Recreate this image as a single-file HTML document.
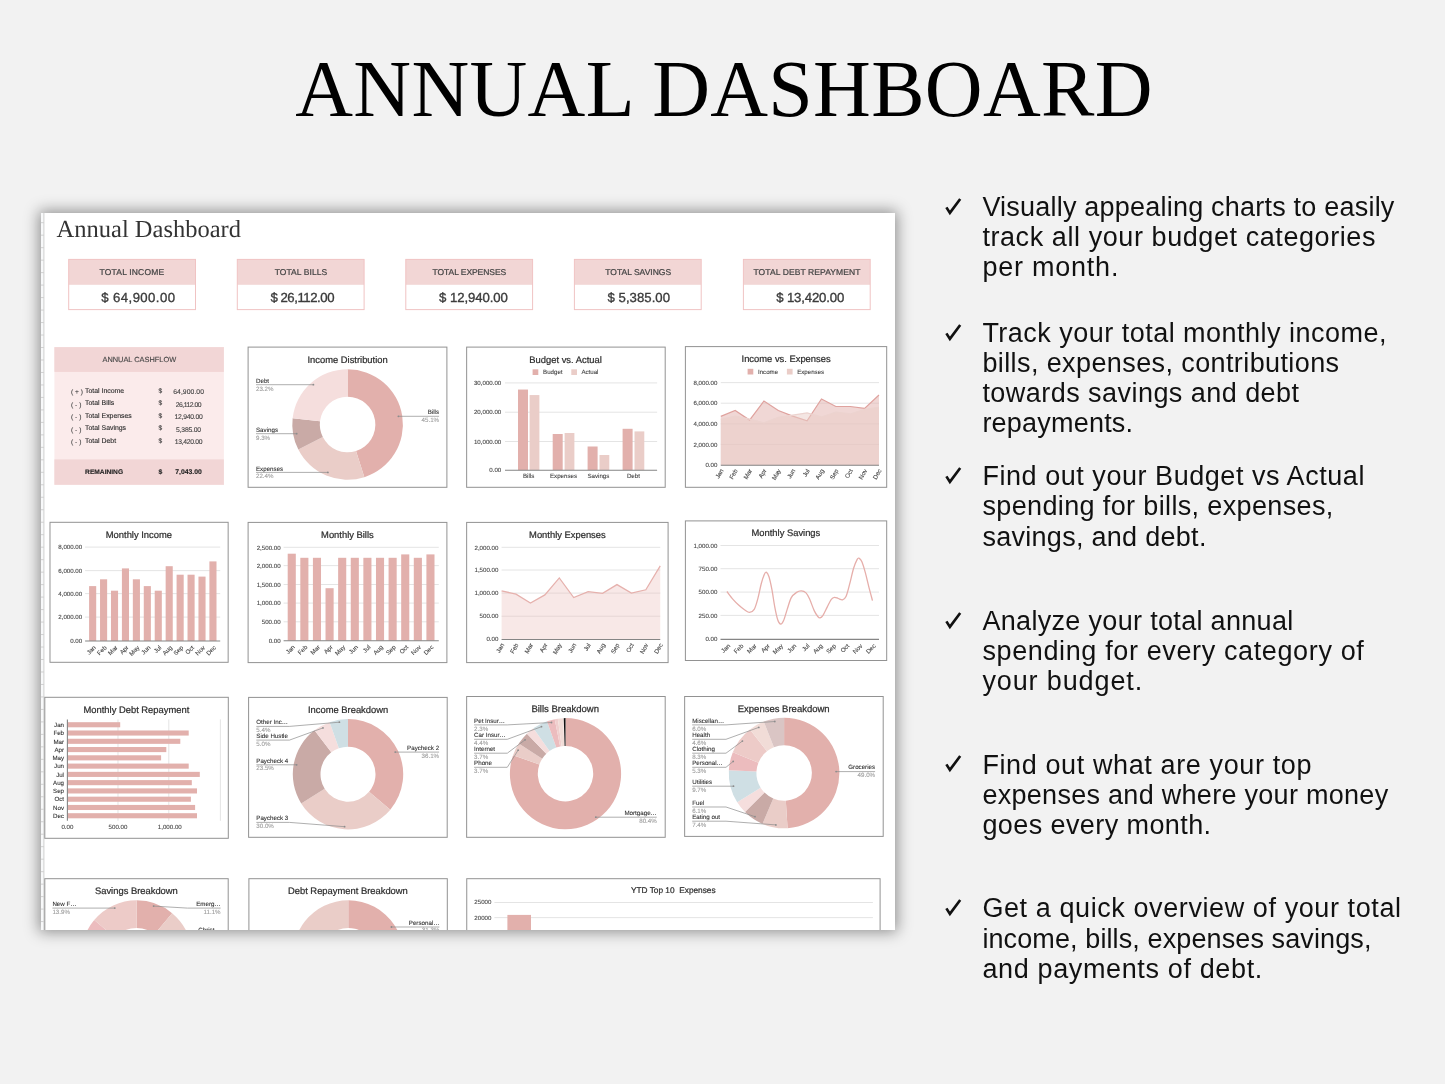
<!DOCTYPE html>
<html lang="en"><head><meta charset="utf-8"><title>Annual Dashboard</title>
<style>
html,body{margin:0;padding:0}
body{width:1445px;height:1084px;background:#f2f2f2;position:relative;overflow:hidden;font-family:'Liberation Sans', Arial, sans-serif}
h1{position:absolute;left:0;top:0;margin:0;width:1445px;text-align:center;font-family:'Liberation Serif', 'Times New Roman', serif;font-weight:400;font-size:80px;line-height:80px;color:#000;white-space:nowrap}
h1 span{position:absolute;left:295.3px;top:49px;letter-spacing:.3px}
#card{position:absolute;left:40.6px;top:213px;width:854.6px;height:717px;background:#fff;overflow:hidden}
#shadow{position:absolute;left:40.6px;top:213px;width:854.6px;height:717px;box-shadow:0 0 14px 2px rgba(0,0,0,.42)}
#card svg{display:block;font-family:'Liberation Sans', Arial, sans-serif}
.ln{position:absolute;left:982.4px;font-size:27.0px;line-height:30px;height:30px;color:#111;white-space:nowrap}
.ck{position:absolute}
</style></head><body>
<h1><span>ANNUAL DASHBOARD</span></h1>
<div id="shadow"></div>
<div id="card"><svg width="854.6" height="717" viewBox="40.6 213 854.6 717" text-rendering="geometricPrecision">
<rect x="40" y="213" width="3.5" height="717" fill="#f8f9fa"/>
<line x1="43.5" x2="43.5" y1="213" y2="930" stroke="#cfcfcf" stroke-width="1"/>
<line x1="40" x2="43.5" y1="222.7" y2="222.7" stroke="#cdcdcd" stroke-width="0.9"/>
<line x1="40" x2="43.5" y1="235.18" y2="235.18" stroke="#cdcdcd" stroke-width="0.9"/>
<line x1="40" x2="43.5" y1="247.66" y2="247.66" stroke="#cdcdcd" stroke-width="0.9"/>
<line x1="40" x2="43.5" y1="260.14" y2="260.14" stroke="#cdcdcd" stroke-width="0.9"/>
<line x1="40" x2="43.5" y1="272.62" y2="272.62" stroke="#cdcdcd" stroke-width="0.9"/>
<line x1="40" x2="43.5" y1="285.1" y2="285.1" stroke="#cdcdcd" stroke-width="0.9"/>
<line x1="40" x2="43.5" y1="297.58" y2="297.58" stroke="#cdcdcd" stroke-width="0.9"/>
<line x1="40" x2="43.5" y1="310.06" y2="310.06" stroke="#cdcdcd" stroke-width="0.9"/>
<line x1="40" x2="43.5" y1="322.54" y2="322.54" stroke="#cdcdcd" stroke-width="0.9"/>
<line x1="40" x2="43.5" y1="335.02" y2="335.02" stroke="#cdcdcd" stroke-width="0.9"/>
<line x1="40" x2="43.5" y1="347.5" y2="347.5" stroke="#cdcdcd" stroke-width="0.9"/>
<line x1="40" x2="43.5" y1="359.98" y2="359.98" stroke="#cdcdcd" stroke-width="0.9"/>
<line x1="40" x2="43.5" y1="372.46" y2="372.46" stroke="#cdcdcd" stroke-width="0.9"/>
<line x1="40" x2="43.5" y1="384.94" y2="384.94" stroke="#cdcdcd" stroke-width="0.9"/>
<line x1="40" x2="43.5" y1="397.42" y2="397.42" stroke="#cdcdcd" stroke-width="0.9"/>
<line x1="40" x2="43.5" y1="409.9" y2="409.9" stroke="#cdcdcd" stroke-width="0.9"/>
<line x1="40" x2="43.5" y1="422.38" y2="422.38" stroke="#cdcdcd" stroke-width="0.9"/>
<line x1="40" x2="43.5" y1="434.86" y2="434.86" stroke="#cdcdcd" stroke-width="0.9"/>
<line x1="40" x2="43.5" y1="447.34" y2="447.34" stroke="#cdcdcd" stroke-width="0.9"/>
<line x1="40" x2="43.5" y1="459.82" y2="459.82" stroke="#cdcdcd" stroke-width="0.9"/>
<line x1="40" x2="43.5" y1="472.3" y2="472.3" stroke="#cdcdcd" stroke-width="0.9"/>
<line x1="40" x2="43.5" y1="484.78" y2="484.78" stroke="#cdcdcd" stroke-width="0.9"/>
<line x1="40" x2="43.5" y1="497.26" y2="497.26" stroke="#cdcdcd" stroke-width="0.9"/>
<line x1="40" x2="43.5" y1="509.74" y2="509.74" stroke="#cdcdcd" stroke-width="0.9"/>
<line x1="40" x2="43.5" y1="522.22" y2="522.22" stroke="#cdcdcd" stroke-width="0.9"/>
<line x1="40" x2="43.5" y1="534.7" y2="534.7" stroke="#cdcdcd" stroke-width="0.9"/>
<line x1="40" x2="43.5" y1="547.18" y2="547.18" stroke="#cdcdcd" stroke-width="0.9"/>
<line x1="40" x2="43.5" y1="559.66" y2="559.66" stroke="#cdcdcd" stroke-width="0.9"/>
<line x1="40" x2="43.5" y1="572.14" y2="572.14" stroke="#cdcdcd" stroke-width="0.9"/>
<line x1="40" x2="43.5" y1="584.62" y2="584.62" stroke="#cdcdcd" stroke-width="0.9"/>
<line x1="40" x2="43.5" y1="597.1" y2="597.1" stroke="#cdcdcd" stroke-width="0.9"/>
<line x1="40" x2="43.5" y1="609.58" y2="609.58" stroke="#cdcdcd" stroke-width="0.9"/>
<line x1="40" x2="43.5" y1="622.06" y2="622.06" stroke="#cdcdcd" stroke-width="0.9"/>
<line x1="40" x2="43.5" y1="634.54" y2="634.54" stroke="#cdcdcd" stroke-width="0.9"/>
<line x1="40" x2="43.5" y1="647.02" y2="647.02" stroke="#cdcdcd" stroke-width="0.9"/>
<line x1="40" x2="43.5" y1="659.5" y2="659.5" stroke="#cdcdcd" stroke-width="0.9"/>
<line x1="40" x2="43.5" y1="671.98" y2="671.98" stroke="#cdcdcd" stroke-width="0.9"/>
<line x1="40" x2="43.5" y1="684.46" y2="684.46" stroke="#cdcdcd" stroke-width="0.9"/>
<line x1="40" x2="43.5" y1="696.94" y2="696.94" stroke="#cdcdcd" stroke-width="0.9"/>
<line x1="40" x2="43.5" y1="709.42" y2="709.42" stroke="#cdcdcd" stroke-width="0.9"/>
<line x1="40" x2="43.5" y1="721.9" y2="721.9" stroke="#cdcdcd" stroke-width="0.9"/>
<line x1="40" x2="43.5" y1="734.38" y2="734.38" stroke="#cdcdcd" stroke-width="0.9"/>
<line x1="40" x2="43.5" y1="746.86" y2="746.86" stroke="#cdcdcd" stroke-width="0.9"/>
<line x1="40" x2="43.5" y1="759.34" y2="759.34" stroke="#cdcdcd" stroke-width="0.9"/>
<line x1="40" x2="43.5" y1="771.82" y2="771.82" stroke="#cdcdcd" stroke-width="0.9"/>
<line x1="40" x2="43.5" y1="784.3" y2="784.3" stroke="#cdcdcd" stroke-width="0.9"/>
<line x1="40" x2="43.5" y1="796.78" y2="796.78" stroke="#cdcdcd" stroke-width="0.9"/>
<line x1="40" x2="43.5" y1="809.26" y2="809.26" stroke="#cdcdcd" stroke-width="0.9"/>
<line x1="40" x2="43.5" y1="821.74" y2="821.74" stroke="#cdcdcd" stroke-width="0.9"/>
<line x1="40" x2="43.5" y1="834.22" y2="834.22" stroke="#cdcdcd" stroke-width="0.9"/>
<line x1="40" x2="43.5" y1="846.7" y2="846.7" stroke="#cdcdcd" stroke-width="0.9"/>
<line x1="40" x2="43.5" y1="859.18" y2="859.18" stroke="#cdcdcd" stroke-width="0.9"/>
<line x1="40" x2="43.5" y1="871.66" y2="871.66" stroke="#cdcdcd" stroke-width="0.9"/>
<line x1="40" x2="43.5" y1="884.14" y2="884.14" stroke="#cdcdcd" stroke-width="0.9"/>
<line x1="40" x2="43.5" y1="896.62" y2="896.62" stroke="#cdcdcd" stroke-width="0.9"/>
<line x1="40" x2="43.5" y1="909.1" y2="909.1" stroke="#cdcdcd" stroke-width="0.9"/>
<line x1="40" x2="43.5" y1="921.58" y2="921.58" stroke="#cdcdcd" stroke-width="0.9"/>
<text x="56.2" y="237.3" font-size="24.5" font-family="'Liberation Serif', 'Times New Roman', serif" fill="#333">Annual Dashboard</text>
<rect x="68.3" y="259.4" width="126.8" height="50.2" fill="#fff"/>
<rect x="68.3" y="259.4" width="126.8" height="25.4" fill="#f2d6d5"/>
<rect x="68.3" y="259.4" width="126.8" height="50.2" fill="none" stroke="#f0c3c3" stroke-width="1"/>
<text x="99.2" y="275.2" font-size="8.5" fill="#444" stroke="#444" stroke-width="0.22" textLength="64.5" lengthAdjust="spacing">TOTAL INCOME</text>
<text x="100.9" y="301.5" font-size="13.2" fill="#3c3c3c" stroke="#3c3c3c" stroke-width="0.34" textLength="73.7" lengthAdjust="spacing">$ 64,900.00</text>
<rect x="236.9" y="259.4" width="126.8" height="50.2" fill="#fff"/>
<rect x="236.9" y="259.4" width="126.8" height="25.4" fill="#f2d6d5"/>
<rect x="236.9" y="259.4" width="126.8" height="50.2" fill="none" stroke="#f0c3c3" stroke-width="1"/>
<text x="274.3" y="275.2" font-size="8.5" fill="#444" stroke="#444" stroke-width="0.22" textLength="52.5" lengthAdjust="spacing">TOTAL BILLS</text>
<text x="270" y="301.5" font-size="13.2" fill="#3c3c3c" stroke="#3c3c3c" stroke-width="0.34" textLength="64.1" lengthAdjust="spacing">$ 26,112.00</text>
<rect x="405.4" y="259.4" width="126.8" height="50.2" fill="#fff"/>
<rect x="405.4" y="259.4" width="126.8" height="25.4" fill="#f2d6d5"/>
<rect x="405.4" y="259.4" width="126.8" height="50.2" fill="none" stroke="#f0c3c3" stroke-width="1"/>
<text x="432.1" y="275.2" font-size="8.5" fill="#444" stroke="#444" stroke-width="0.22" textLength="73.7" lengthAdjust="spacing">TOTAL EXPENSES</text>
<text x="438.7" y="301.5" font-size="13.2" fill="#3c3c3c" stroke="#3c3c3c" stroke-width="0.34" textLength="68.8" lengthAdjust="spacing">$ 12,940.00</text>
<rect x="574" y="259.4" width="126.8" height="50.2" fill="#fff"/>
<rect x="574" y="259.4" width="126.8" height="25.4" fill="#f2d6d5"/>
<rect x="574" y="259.4" width="126.8" height="50.2" fill="none" stroke="#f0c3c3" stroke-width="1"/>
<text x="604.95" y="275.2" font-size="8.5" fill="#444" stroke="#444" stroke-width="0.22" textLength="65.75" lengthAdjust="spacing">TOTAL SAVINGS</text>
<text x="607.2" y="301.5" font-size="13.2" fill="#3c3c3c" stroke="#3c3c3c" stroke-width="0.34" textLength="62.4" lengthAdjust="spacing">$ 5,385.00</text>
<rect x="743" y="259.4" width="126.8" height="50.2" fill="#fff"/>
<rect x="743" y="259.4" width="126.8" height="25.4" fill="#f2d6d5"/>
<rect x="743" y="259.4" width="126.8" height="50.2" fill="none" stroke="#f0c3c3" stroke-width="1"/>
<text x="753.1" y="275.2" font-size="8.5" fill="#444" stroke="#444" stroke-width="0.22" textLength="106.9" lengthAdjust="spacing">TOTAL DEBT REPAYMENT</text>
<text x="775.9" y="301.5" font-size="13.2" fill="#3c3c3c" stroke="#3c3c3c" stroke-width="0.34" textLength="68" lengthAdjust="spacing">$ 13,420.00</text>
<rect x="54" y="347.1" width="169.5" height="137.7" fill="#fbebeb"/>
<rect x="54" y="347.1" width="169.5" height="24.8" fill="#f2d6d6"/>
<rect x="54" y="459.4" width="169.5" height="25.4" fill="#f2d6d6"/>
<text x="138.9" y="362.1" font-size="7.4" text-anchor="middle" fill="#444" stroke="#444" stroke-width="0.12">ANNUAL CASHFLOW</text>
<text x="70.7" y="394.4" font-size="6.6" fill="#444" stroke="#444" stroke-width="0.11">( + )</text>
<text x="84.7" y="392.9" font-size="6.9" fill="#2a2a2a" stroke="#2a2a2a" stroke-width="0.11">Total Income</text>
<text x="158" y="392.9" font-size="6.6" fill="#333" stroke="#333" stroke-width="0.11">$</text>
<text x="172.85" y="394.1" font-size="6.8" fill="#444" stroke="#444" stroke-width="0.11" textLength="30.7" lengthAdjust="spacing">64,900.00</text>
<text x="70.7" y="406.9" font-size="6.6" fill="#444" stroke="#444" stroke-width="0.11">( - )</text>
<text x="84.7" y="405.4" font-size="6.9" fill="#2a2a2a" stroke="#2a2a2a" stroke-width="0.11">Total Bills</text>
<text x="158" y="405.4" font-size="6.6" fill="#333" stroke="#333" stroke-width="0.11">$</text>
<text x="175.3" y="406.6" font-size="6.8" fill="#444" stroke="#444" stroke-width="0.11" textLength="25.8" lengthAdjust="spacing">26,112.00</text>
<text x="70.7" y="419.4" font-size="6.6" fill="#444" stroke="#444" stroke-width="0.11">( - )</text>
<text x="84.7" y="417.9" font-size="6.9" fill="#2a2a2a" stroke="#2a2a2a" stroke-width="0.11">Total Expenses</text>
<text x="158" y="417.9" font-size="6.6" fill="#333" stroke="#333" stroke-width="0.11">$</text>
<text x="174.05" y="419.1" font-size="6.8" fill="#444" stroke="#444" stroke-width="0.11" textLength="28.3" lengthAdjust="spacing">12,940.00</text>
<text x="70.7" y="431.9" font-size="6.6" fill="#444" stroke="#444" stroke-width="0.11">( - )</text>
<text x="84.7" y="430.4" font-size="6.9" fill="#2a2a2a" stroke="#2a2a2a" stroke-width="0.11">Total Savings</text>
<text x="158" y="430.4" font-size="6.6" fill="#333" stroke="#333" stroke-width="0.11">$</text>
<text x="175.65" y="431.6" font-size="6.8" fill="#444" stroke="#444" stroke-width="0.11" textLength="25.1" lengthAdjust="spacing">5,385.00</text>
<text x="70.7" y="444.4" font-size="6.6" fill="#444" stroke="#444" stroke-width="0.11">( - )</text>
<text x="84.7" y="442.9" font-size="6.9" fill="#2a2a2a" stroke="#2a2a2a" stroke-width="0.11">Total Debt</text>
<text x="158" y="442.9" font-size="6.6" fill="#333" stroke="#333" stroke-width="0.11">$</text>
<text x="174.35" y="444.1" font-size="6.8" fill="#444" stroke="#444" stroke-width="0.11" textLength="27.7" lengthAdjust="spacing">13,420.00</text>
<text x="84.7" y="474" font-size="6.65" font-weight="bold" fill="#222" stroke="#222" stroke-width="0.11">REMAINING</text>
<text x="158" y="474" font-size="6.8" font-weight="bold" fill="#222" stroke="#222" stroke-width="0.11">$</text>
<text x="188.1" y="474" font-size="6.8" text-anchor="middle" font-weight="bold" fill="#222" stroke="#222" stroke-width="0.11">7,043.00</text>
<rect x="247.7" y="347.1" width="198.8" height="140.2" fill="#fff" stroke="#929292" stroke-width="1"/>
<text x="347.2" y="363" font-size="9.4" text-anchor="middle" fill="#2f2f2f" stroke="#2f2f2f" stroke-width="0.24">Income Distribution</text>
<path d="M347.2 369.2A55.3 55.3 0 0 1 363.96 477.2L355.62 450.99A27.8 27.8 0 0 0 347.2 396.7Z" fill="#e2b0ac"/>
<path d="M363.96 477.2A55.3 55.3 0 0 1 297.93 449.61L322.43 437.12A27.8 27.8 0 0 0 355.62 450.99Z" fill="#eacdc8"/>
<path d="M297.93 449.61A55.3 55.3 0 0 1 292.25 418.26L319.58 421.36A27.8 27.8 0 0 0 322.43 437.12Z" fill="#c9aaa6"/>
<path d="M292.25 418.26A55.3 55.3 0 0 1 347.2 369.2L347.2 396.7A27.8 27.8 0 0 0 319.58 421.36Z" fill="#f5dedd"/>
<text x="255.6" y="383.2" font-size="6.2" fill="#333" stroke="#333" stroke-width="0.10">Debt</text>
<text x="255.6" y="390.9" font-size="6.2" fill="#9c9c9c" stroke="#9c9c9c" stroke-width="0.10">23.2%</text>
<path d="M255.6 384.7L313 384.7" fill="none" stroke="#8c8c8c" stroke-width="0.7"/>
<circle cx="313" cy="384.7" r="0.9" fill="#8c8c8c"/>
<text x="255.6" y="431.8" font-size="6.2" fill="#333" stroke="#333" stroke-width="0.10">Savings</text>
<text x="255.6" y="439.5" font-size="6.2" fill="#9c9c9c" stroke="#9c9c9c" stroke-width="0.10">9.3%</text>
<path d="M255.6 433.7L296.3 433.7" fill="none" stroke="#8c8c8c" stroke-width="0.7"/>
<circle cx="296.3" cy="433.7" r="0.9" fill="#8c8c8c"/>
<text x="255.6" y="470.5" font-size="6.2" fill="#333" stroke="#333" stroke-width="0.10">Expenses</text>
<text x="255.6" y="478.2" font-size="6.2" fill="#9c9c9c" stroke="#9c9c9c" stroke-width="0.10">22.4%</text>
<path d="M255.6 472.4L327.5 472.4" fill="none" stroke="#8c8c8c" stroke-width="0.7"/>
<circle cx="327.5" cy="472.4" r="0.9" fill="#8c8c8c"/>
<text x="438.7" y="414.4" font-size="6.2" text-anchor="end" fill="#333" stroke="#333" stroke-width="0.10">Bills</text>
<text x="438.7" y="422.1" font-size="6.2" text-anchor="end" fill="#9c9c9c" stroke="#9c9c9c" stroke-width="0.10">45.1%</text>
<path d="M438.7 416.3L398 416.3" fill="none" stroke="#8c8c8c" stroke-width="0.7"/>
<circle cx="398" cy="416.3" r="0.9" fill="#8c8c8c"/>
<rect x="466.25" y="347.1" width="198.55" height="140.2" fill="#fff" stroke="#929292" stroke-width="1"/>
<text x="565.2" y="362.8" font-size="9.4" text-anchor="middle" fill="#2f2f2f" stroke="#2f2f2f" stroke-width="0.24">Budget vs. Actual</text>
<rect x="532.2" y="369.3" width="5.7" height="5.7" fill="#e2b0ac"/>
<text x="542.7" y="373.9" font-size="6.15" fill="#444" stroke="#444" stroke-width="0.10">Budget</text>
<rect x="570.9" y="369.3" width="5.7" height="5.7" fill="#eacdc8"/>
<text x="581" y="373.9" font-size="6.15" fill="#444" stroke="#444" stroke-width="0.10">Actual</text>
<line x1="504.6" x2="656.7" y1="382.9" y2="382.9" stroke="#e1e1e1" stroke-width="0.9"/>
<line x1="504.6" x2="656.7" y1="412.2" y2="412.2" stroke="#e1e1e1" stroke-width="0.9"/>
<line x1="504.6" x2="656.7" y1="441.5" y2="441.5" stroke="#e1e1e1" stroke-width="0.9"/>
<text x="500.9" y="385.11" font-size="6.15" text-anchor="end" fill="#444" stroke="#444" stroke-width="0.10">30,000.00</text>
<text x="500.9" y="414.41" font-size="6.15" text-anchor="end" fill="#444" stroke="#444" stroke-width="0.10">20,000.00</text>
<text x="500.9" y="443.71" font-size="6.15" text-anchor="end" fill="#444" stroke="#444" stroke-width="0.10">10,000.00</text>
<text x="500.9" y="472.11" font-size="6.15" text-anchor="end" fill="#444" stroke="#444" stroke-width="0.10">0.00</text>
<rect x="517.6" y="389.55" width="10" height="80.65" fill="#e2b0ac"/>
<rect x="529.2" y="395.06" width="9.8" height="75.14" fill="#eacdc8"/>
<rect x="552.3" y="434" width="10" height="36.2" fill="#e2b0ac"/>
<rect x="564.2" y="433" width="9.8" height="37.2" fill="#eacdc8"/>
<rect x="587.2" y="446.5" width="10" height="23.7" fill="#e2b0ac"/>
<rect x="599.1" y="455" width="9.8" height="15.2" fill="#eacdc8"/>
<rect x="622.2" y="428.8" width="10" height="41.4" fill="#e2b0ac"/>
<rect x="634.1" y="431.4" width="9.8" height="38.8" fill="#eacdc8"/>
<line x1="504.6" x2="656.7" y1="470.2" y2="470.2" stroke="#858585" stroke-width="1.1"/>
<text x="528.2" y="478.1" font-size="6.15" text-anchor="middle" fill="#444" stroke="#444" stroke-width="0.10">Bills</text>
<text x="563.1" y="478.1" font-size="6.15" text-anchor="middle" fill="#444" stroke="#444" stroke-width="0.10">Expenses</text>
<text x="598" y="478.1" font-size="6.15" text-anchor="middle" fill="#444" stroke="#444" stroke-width="0.10">Savings</text>
<text x="633" y="478.1" font-size="6.15" text-anchor="middle" fill="#444" stroke="#444" stroke-width="0.10">Debt</text>
<rect x="685" y="346.6" width="201.3" height="140.7" fill="#fff" stroke="#929292" stroke-width="1"/>
<text x="785.7" y="361.8" font-size="9.4" text-anchor="middle" fill="#2f2f2f" stroke="#2f2f2f" stroke-width="0.24">Income vs. Expenses</text>
<rect x="747.2" y="368.8" width="5.7" height="5.7" fill="#e2b0ac"/>
<text x="757.6" y="373.7" font-size="6.15" fill="#444" stroke="#444" stroke-width="0.10">Income</text>
<rect x="786.5" y="368.8" width="5.7" height="5.7" fill="#eacdc8"/>
<text x="796.75" y="373.7" font-size="6.15" fill="#444" stroke="#444" stroke-width="0.10">Expenses</text>
<line x1="720.4" x2="878.6" y1="382.6" y2="382.6" stroke="#e1e1e1" stroke-width="0.9"/>
<line x1="720.4" x2="878.6" y1="403.2" y2="403.2" stroke="#e1e1e1" stroke-width="0.9"/>
<line x1="720.4" x2="878.6" y1="423.9" y2="423.9" stroke="#e1e1e1" stroke-width="0.9"/>
<line x1="720.4" x2="878.6" y1="444.4" y2="444.4" stroke="#e1e1e1" stroke-width="0.9"/>
<text x="717" y="384.81" font-size="6.15" text-anchor="end" fill="#444" stroke="#444" stroke-width="0.10">8,000.00</text>
<text x="717" y="405.41" font-size="6.15" text-anchor="end" fill="#444" stroke="#444" stroke-width="0.10">6,000.00</text>
<text x="717" y="426.11" font-size="6.15" text-anchor="end" fill="#444" stroke="#444" stroke-width="0.10">4,000.00</text>
<text x="717" y="446.61" font-size="6.15" text-anchor="end" fill="#444" stroke="#444" stroke-width="0.10">2,000.00</text>
<text x="717" y="467.11" font-size="6.15" text-anchor="end" fill="#444" stroke="#444" stroke-width="0.10">0.00</text>
<polygon points="720.4,465.2 720.4,416.4 734.78,410.5 749.16,420.1 763.55,401 777.93,410.5 792.31,416.1 806.69,420.9 821.07,399 835.45,406.5 849.84,406.5 864.22,408.4 878.6,395 878.6,465.2" fill="#e2b0ac" fill-opacity="0.5"/>
<polyline points="720.4,416.4 734.78,410.5 749.16,420.1 763.55,401 777.93,410.5 792.31,416.1 806.69,420.9 821.07,399 835.45,406.5 849.84,406.5 864.22,408.4 878.6,395" fill="none" stroke="#dfa29e" stroke-width="1.2"/>
<polygon points="720.4,465.2 720.4,419.4 734.78,416.1 749.16,419.1 763.55,422.8 777.93,417.3 792.31,415.1 806.69,412.9 821.07,416.9 835.45,412 849.84,413.9 864.22,409.4 878.6,407.2 878.6,465.2" fill="#eacdc8" fill-opacity="0.5"/>
<polyline points="720.4,419.4 734.78,416.1 749.16,419.1 763.55,422.8 777.93,417.3 792.31,415.1 806.69,412.9 821.07,416.9 835.45,412 849.84,413.9 864.22,409.4 878.6,407.2" fill="none" stroke="#ecd3cf" stroke-width="1.1"/>
<line x1="720.4" x2="878.6" y1="465.2" y2="465.2" stroke="#858585" stroke-width="1.1"/>
<text transform="translate(723.2 470.5) rotate(-60)" font-size="6.15" text-anchor="end" fill="#444" stroke="#444" stroke-width="0.1">Jan</text>
<text transform="translate(737.58 470.5) rotate(-60)" font-size="6.15" text-anchor="end" fill="#444" stroke="#444" stroke-width="0.1">Feb</text>
<text transform="translate(751.96 470.5) rotate(-60)" font-size="6.15" text-anchor="end" fill="#444" stroke="#444" stroke-width="0.1">Mar</text>
<text transform="translate(766.35 470.5) rotate(-60)" font-size="6.15" text-anchor="end" fill="#444" stroke="#444" stroke-width="0.1">Apr</text>
<text transform="translate(780.73 470.5) rotate(-60)" font-size="6.15" text-anchor="end" fill="#444" stroke="#444" stroke-width="0.1">May</text>
<text transform="translate(795.11 470.5) rotate(-60)" font-size="6.15" text-anchor="end" fill="#444" stroke="#444" stroke-width="0.1">Jun</text>
<text transform="translate(809.49 470.5) rotate(-60)" font-size="6.15" text-anchor="end" fill="#444" stroke="#444" stroke-width="0.1">Jul</text>
<text transform="translate(823.87 470.5) rotate(-60)" font-size="6.15" text-anchor="end" fill="#444" stroke="#444" stroke-width="0.1">Aug</text>
<text transform="translate(838.25 470.5) rotate(-60)" font-size="6.15" text-anchor="end" fill="#444" stroke="#444" stroke-width="0.1">Sep</text>
<text transform="translate(852.64 470.5) rotate(-60)" font-size="6.15" text-anchor="end" fill="#444" stroke="#444" stroke-width="0.1">Oct</text>
<text transform="translate(867.02 470.5) rotate(-60)" font-size="6.15" text-anchor="end" fill="#444" stroke="#444" stroke-width="0.1">Nov</text>
<text transform="translate(881.4 470.5) rotate(-60)" font-size="6.15" text-anchor="end" fill="#444" stroke="#444" stroke-width="0.1">Dec</text>
<rect x="49.6" y="522.3" width="178.15" height="140" fill="#fff" stroke="#929292" stroke-width="1"/>
<text x="138.5" y="537.8" font-size="9.4" text-anchor="middle" fill="#2f2f2f" stroke="#2f2f2f" stroke-width="0.24">Monthly Income</text>
<line x1="84.7" x2="219.8" y1="547.1" y2="547.1" stroke="#e1e1e1" stroke-width="0.9"/>
<line x1="84.7" x2="219.8" y1="570.6" y2="570.6" stroke="#e1e1e1" stroke-width="0.9"/>
<line x1="84.7" x2="219.8" y1="593.6" y2="593.6" stroke="#e1e1e1" stroke-width="0.9"/>
<line x1="84.7" x2="219.8" y1="617.1" y2="617.1" stroke="#e1e1e1" stroke-width="0.9"/>
<text x="81.8" y="549.31" font-size="6.15" text-anchor="end" fill="#444" stroke="#444" stroke-width="0.10">8,000.00</text>
<text x="81.8" y="572.81" font-size="6.15" text-anchor="end" fill="#444" stroke="#444" stroke-width="0.10">6,000.00</text>
<text x="81.8" y="595.81" font-size="6.15" text-anchor="end" fill="#444" stroke="#444" stroke-width="0.10">4,000.00</text>
<text x="81.8" y="619.31" font-size="6.15" text-anchor="end" fill="#444" stroke="#444" stroke-width="0.10">2,000.00</text>
<text x="81.8" y="642.91" font-size="6.15" text-anchor="end" fill="#444" stroke="#444" stroke-width="0.10">0.00</text>
<rect x="88.7" y="586.1" width="7.1" height="54.9" fill="#e2b0ac"/>
<rect x="99.64" y="579.3" width="7.1" height="61.7" fill="#e2b0ac"/>
<rect x="110.57" y="590.7" width="7.1" height="50.3" fill="#e2b0ac"/>
<rect x="121.51" y="568.4" width="7.1" height="72.6" fill="#e2b0ac"/>
<rect x="132.44" y="579.3" width="7.1" height="61.7" fill="#e2b0ac"/>
<rect x="143.38" y="586.1" width="7.1" height="54.9" fill="#e2b0ac"/>
<rect x="154.32" y="590.7" width="7.1" height="50.3" fill="#e2b0ac"/>
<rect x="165.25" y="566.2" width="7.1" height="74.8" fill="#e2b0ac"/>
<rect x="176.19" y="574.7" width="7.1" height="66.3" fill="#e2b0ac"/>
<rect x="187.12" y="574.7" width="7.1" height="66.3" fill="#e2b0ac"/>
<rect x="198.06" y="576.6" width="7.1" height="64.4" fill="#e2b0ac"/>
<rect x="209" y="561.4" width="7.1" height="79.6" fill="#e2b0ac"/>
<line x1="84.7" x2="219.8" y1="641" y2="641" stroke="#858585" stroke-width="1.1"/>
<text transform="translate(95.75 648) rotate(-45)" font-size="6.15" text-anchor="end" fill="#444" stroke="#444" stroke-width="0.1">Jan</text>
<text transform="translate(106.69 648) rotate(-45)" font-size="6.15" text-anchor="end" fill="#444" stroke="#444" stroke-width="0.1">Feb</text>
<text transform="translate(117.62 648) rotate(-45)" font-size="6.15" text-anchor="end" fill="#444" stroke="#444" stroke-width="0.1">Mar</text>
<text transform="translate(128.56 648) rotate(-45)" font-size="6.15" text-anchor="end" fill="#444" stroke="#444" stroke-width="0.1">Apr</text>
<text transform="translate(139.49 648) rotate(-45)" font-size="6.15" text-anchor="end" fill="#444" stroke="#444" stroke-width="0.1">May</text>
<text transform="translate(150.43 648) rotate(-45)" font-size="6.15" text-anchor="end" fill="#444" stroke="#444" stroke-width="0.1">Jun</text>
<text transform="translate(161.37 648) rotate(-45)" font-size="6.15" text-anchor="end" fill="#444" stroke="#444" stroke-width="0.1">Jul</text>
<text transform="translate(172.3 648) rotate(-45)" font-size="6.15" text-anchor="end" fill="#444" stroke="#444" stroke-width="0.1">Aug</text>
<text transform="translate(183.24 648) rotate(-45)" font-size="6.15" text-anchor="end" fill="#444" stroke="#444" stroke-width="0.1">Sep</text>
<text transform="translate(194.17 648) rotate(-45)" font-size="6.15" text-anchor="end" fill="#444" stroke="#444" stroke-width="0.1">Oct</text>
<text transform="translate(205.11 648) rotate(-45)" font-size="6.15" text-anchor="end" fill="#444" stroke="#444" stroke-width="0.1">Nov</text>
<text transform="translate(216.05 648) rotate(-45)" font-size="6.15" text-anchor="end" fill="#444" stroke="#444" stroke-width="0.1">Dec</text>
<rect x="247.7" y="522.4" width="198.8" height="140.2" fill="#fff" stroke="#929292" stroke-width="1"/>
<text x="347" y="538" font-size="9.4" text-anchor="middle" fill="#2f2f2f" stroke="#2f2f2f" stroke-width="0.24">Monthly Bills</text>
<line x1="283.2" x2="438.4" y1="547.3" y2="547.3" stroke="#e1e1e1" stroke-width="0.9"/>
<line x1="283.2" x2="438.4" y1="565.6" y2="565.6" stroke="#e1e1e1" stroke-width="0.9"/>
<line x1="283.2" x2="438.4" y1="584.5" y2="584.5" stroke="#e1e1e1" stroke-width="0.9"/>
<line x1="283.2" x2="438.4" y1="603.1" y2="603.1" stroke="#e1e1e1" stroke-width="0.9"/>
<line x1="283.2" x2="438.4" y1="621.8" y2="621.8" stroke="#e1e1e1" stroke-width="0.9"/>
<text x="280.2" y="549.51" font-size="6.15" text-anchor="end" fill="#444" stroke="#444" stroke-width="0.10">2,500.00</text>
<text x="280.2" y="567.81" font-size="6.15" text-anchor="end" fill="#444" stroke="#444" stroke-width="0.10">2,000.00</text>
<text x="280.2" y="586.71" font-size="6.15" text-anchor="end" fill="#444" stroke="#444" stroke-width="0.10">1,500.00</text>
<text x="280.2" y="605.31" font-size="6.15" text-anchor="end" fill="#444" stroke="#444" stroke-width="0.10">1,000.00</text>
<text x="280.2" y="624.01" font-size="6.15" text-anchor="end" fill="#444" stroke="#444" stroke-width="0.10">500.00</text>
<text x="280.2" y="642.61" font-size="6.15" text-anchor="end" fill="#444" stroke="#444" stroke-width="0.10">0.00</text>
<rect x="287.3" y="553.7" width="8.1" height="87" fill="#e2b0ac"/>
<rect x="299.91" y="557.8" width="8.1" height="82.9" fill="#e2b0ac"/>
<rect x="312.52" y="557.8" width="8.1" height="82.9" fill="#e2b0ac"/>
<rect x="325.13" y="588.2" width="8.1" height="52.5" fill="#e2b0ac"/>
<rect x="337.74" y="557.8" width="8.1" height="82.9" fill="#e2b0ac"/>
<rect x="350.35" y="557.8" width="8.1" height="82.9" fill="#e2b0ac"/>
<rect x="362.96" y="557.8" width="8.1" height="82.9" fill="#e2b0ac"/>
<rect x="375.57" y="557.8" width="8.1" height="82.9" fill="#e2b0ac"/>
<rect x="388.18" y="557.8" width="8.1" height="82.9" fill="#e2b0ac"/>
<rect x="400.79" y="554.4" width="8.1" height="86.3" fill="#e2b0ac"/>
<rect x="413.4" y="557.8" width="8.1" height="82.9" fill="#e2b0ac"/>
<rect x="426.01" y="554.4" width="8.1" height="86.3" fill="#e2b0ac"/>
<line x1="283.2" x2="438.4" y1="640.7" y2="640.7" stroke="#858585" stroke-width="1.1"/>
<text transform="translate(294.85 647.6) rotate(-45)" font-size="6.15" text-anchor="end" fill="#444" stroke="#444" stroke-width="0.1">Jan</text>
<text transform="translate(307.46 647.6) rotate(-45)" font-size="6.15" text-anchor="end" fill="#444" stroke="#444" stroke-width="0.1">Feb</text>
<text transform="translate(320.07 647.6) rotate(-45)" font-size="6.15" text-anchor="end" fill="#444" stroke="#444" stroke-width="0.1">Mar</text>
<text transform="translate(332.68 647.6) rotate(-45)" font-size="6.15" text-anchor="end" fill="#444" stroke="#444" stroke-width="0.1">Apr</text>
<text transform="translate(345.29 647.6) rotate(-45)" font-size="6.15" text-anchor="end" fill="#444" stroke="#444" stroke-width="0.1">May</text>
<text transform="translate(357.9 647.6) rotate(-45)" font-size="6.15" text-anchor="end" fill="#444" stroke="#444" stroke-width="0.1">Jun</text>
<text transform="translate(370.51 647.6) rotate(-45)" font-size="6.15" text-anchor="end" fill="#444" stroke="#444" stroke-width="0.1">Jul</text>
<text transform="translate(383.12 647.6) rotate(-45)" font-size="6.15" text-anchor="end" fill="#444" stroke="#444" stroke-width="0.1">Aug</text>
<text transform="translate(395.73 647.6) rotate(-45)" font-size="6.15" text-anchor="end" fill="#444" stroke="#444" stroke-width="0.1">Sep</text>
<text transform="translate(408.34 647.6) rotate(-45)" font-size="6.15" text-anchor="end" fill="#444" stroke="#444" stroke-width="0.1">Oct</text>
<text transform="translate(420.95 647.6) rotate(-45)" font-size="6.15" text-anchor="end" fill="#444" stroke="#444" stroke-width="0.1">Nov</text>
<text transform="translate(433.56 647.6) rotate(-45)" font-size="6.15" text-anchor="end" fill="#444" stroke="#444" stroke-width="0.1">Dec</text>
<rect x="466.25" y="522.4" width="201.45" height="140.2" fill="#fff" stroke="#929292" stroke-width="1"/>
<text x="567" y="538" font-size="9.4" text-anchor="middle" fill="#2f2f2f" stroke="#2f2f2f" stroke-width="0.24">Monthly Expenses</text>
<line x1="501.2" x2="659.85" y1="547.3" y2="547.3" stroke="#e1e1e1" stroke-width="0.9"/>
<line x1="501.2" x2="659.85" y1="570" y2="570" stroke="#e1e1e1" stroke-width="0.9"/>
<line x1="501.2" x2="659.85" y1="593.1" y2="593.1" stroke="#e1e1e1" stroke-width="0.9"/>
<line x1="501.2" x2="659.85" y1="616.2" y2="616.2" stroke="#e1e1e1" stroke-width="0.9"/>
<text x="498" y="549.51" font-size="6.15" text-anchor="end" fill="#444" stroke="#444" stroke-width="0.10">2,000.00</text>
<text x="498" y="572.21" font-size="6.15" text-anchor="end" fill="#444" stroke="#444" stroke-width="0.10">1,500.00</text>
<text x="498" y="595.31" font-size="6.15" text-anchor="end" fill="#444" stroke="#444" stroke-width="0.10">1,000.00</text>
<text x="498" y="618.41" font-size="6.15" text-anchor="end" fill="#444" stroke="#444" stroke-width="0.10">500.00</text>
<text x="498" y="641.41" font-size="6.15" text-anchor="end" fill="#444" stroke="#444" stroke-width="0.10">0.00</text>
<polygon points="501.2,639.5 501.2,590.9 515.62,594.1 530.05,603.1 544.47,594.9 558.89,577.9 573.31,597.6 587.74,591.6 602.16,593.4 616.58,584.6 631,593.1 645.43,589.8 659.85,565.9 659.85,639.5" fill="#ecbdb9" fill-opacity="0.35"/>
<polyline points="501.2,590.9 515.62,594.1 530.05,603.1 544.47,594.9 558.89,577.9 573.31,597.6 587.74,591.6 602.16,593.4 616.58,584.6 631,593.1 645.43,589.8 659.85,565.9" fill="none" stroke="#e6b1ad" stroke-width="1.25"/>
<line x1="501.2" x2="659.85" y1="639.5" y2="639.5" stroke="#858585" stroke-width="1.1"/>
<text transform="translate(504 644.8) rotate(-60)" font-size="6.15" text-anchor="end" fill="#444" stroke="#444" stroke-width="0.1">Jan</text>
<text transform="translate(518.42 644.8) rotate(-60)" font-size="6.15" text-anchor="end" fill="#444" stroke="#444" stroke-width="0.1">Feb</text>
<text transform="translate(532.85 644.8) rotate(-60)" font-size="6.15" text-anchor="end" fill="#444" stroke="#444" stroke-width="0.1">Mar</text>
<text transform="translate(547.27 644.8) rotate(-60)" font-size="6.15" text-anchor="end" fill="#444" stroke="#444" stroke-width="0.1">Apr</text>
<text transform="translate(561.69 644.8) rotate(-60)" font-size="6.15" text-anchor="end" fill="#444" stroke="#444" stroke-width="0.1">May</text>
<text transform="translate(576.11 644.8) rotate(-60)" font-size="6.15" text-anchor="end" fill="#444" stroke="#444" stroke-width="0.1">Jun</text>
<text transform="translate(590.54 644.8) rotate(-60)" font-size="6.15" text-anchor="end" fill="#444" stroke="#444" stroke-width="0.1">Jul</text>
<text transform="translate(604.96 644.8) rotate(-60)" font-size="6.15" text-anchor="end" fill="#444" stroke="#444" stroke-width="0.1">Aug</text>
<text transform="translate(619.38 644.8) rotate(-60)" font-size="6.15" text-anchor="end" fill="#444" stroke="#444" stroke-width="0.1">Sep</text>
<text transform="translate(633.8 644.8) rotate(-60)" font-size="6.15" text-anchor="end" fill="#444" stroke="#444" stroke-width="0.1">Oct</text>
<text transform="translate(648.23 644.8) rotate(-60)" font-size="6.15" text-anchor="end" fill="#444" stroke="#444" stroke-width="0.1">Nov</text>
<text transform="translate(662.65 644.8) rotate(-60)" font-size="6.15" text-anchor="end" fill="#444" stroke="#444" stroke-width="0.1">Dec</text>
<rect x="685" y="520.9" width="201.3" height="139.6" fill="#fff" stroke="#929292" stroke-width="1"/>
<text x="785.5" y="536" font-size="9.4" text-anchor="middle" fill="#2f2f2f" stroke="#2f2f2f" stroke-width="0.24">Monthly Savings</text>
<line x1="720.1" x2="878.6" y1="545.5" y2="545.5" stroke="#e1e1e1" stroke-width="0.9"/>
<line x1="720.1" x2="878.6" y1="568.7" y2="568.7" stroke="#e1e1e1" stroke-width="0.9"/>
<line x1="720.1" x2="878.6" y1="592.1" y2="592.1" stroke="#e1e1e1" stroke-width="0.9"/>
<line x1="720.1" x2="878.6" y1="615.4" y2="615.4" stroke="#e1e1e1" stroke-width="0.9"/>
<text x="717" y="547.71" font-size="6.15" text-anchor="end" fill="#444" stroke="#444" stroke-width="0.10">1,000.00</text>
<text x="717" y="570.91" font-size="6.15" text-anchor="end" fill="#444" stroke="#444" stroke-width="0.10">750.00</text>
<text x="717" y="594.31" font-size="6.15" text-anchor="end" fill="#444" stroke="#444" stroke-width="0.10">500.00</text>
<text x="717" y="617.61" font-size="6.15" text-anchor="end" fill="#444" stroke="#444" stroke-width="0.10">250.00</text>
<text x="717" y="641.21" font-size="6.15" text-anchor="end" fill="#444" stroke="#444" stroke-width="0.10">0.00</text>
<path d="M726.5 591.5C727.52 592.82 730.6 597.1 732.6 599.4C734.6 601.7 736.53 603.53 738.5 605.3C740.47 607.07 742.63 608.82 744.4 610C746.17 611.18 747.53 612.5 749.1 612.4C750.67 612.3 752.42 611.67 753.8 609.4C755.18 607.13 756.22 603.12 757.4 598.8C758.58 594.48 759.83 587.52 760.9 583.5C761.97 579.48 762.98 576.6 763.8 574.7C764.62 572.8 765.02 571.8 765.8 572.1C766.58 572.4 767.55 573.62 768.5 576.5C769.45 579.38 770.52 584.3 771.5 589.4C772.48 594.5 773.42 602 774.4 607.1C775.38 612.2 776.42 617.17 777.4 620C778.38 622.83 779.33 624 780.3 624.1C781.27 624.2 782.12 623.05 783.2 620.6C784.28 618.15 785.52 613.23 786.8 609.4C788.08 605.57 789.33 600.43 790.9 597.6C792.47 594.77 794.53 593.52 796.2 592.4C797.87 591.28 799.33 590.82 800.9 590.9C802.47 590.98 804.23 591.58 805.6 592.9C806.97 594.22 807.73 595.85 809.1 598.8C810.47 601.75 812.42 607.65 813.8 610.6C815.18 613.55 816.42 615.28 817.4 616.5C818.38 617.72 818.83 618.1 819.7 617.9C820.57 617.7 821.42 617.1 822.6 615.3C823.78 613.5 825.42 609.75 826.8 607.1C828.18 604.45 829.68 601.03 830.9 599.4C832.12 597.77 832.93 597.45 834.1 597.3C835.27 597.15 836.57 598.08 837.9 598.5C839.23 598.92 840.82 600.13 842.1 599.8C843.38 599.47 844.43 599.02 845.6 596.5C846.77 593.98 847.83 589.42 849.1 584.7C850.37 579.98 851.92 572.42 853.2 568.2C854.48 563.98 855.92 561.07 856.8 559.4C857.68 557.73 857.72 557.8 858.5 558.2C859.28 558.6 860.42 559.35 861.5 561.8C862.58 564.25 863.83 568.68 865 572.9C866.17 577.12 867.32 582.48 868.5 587.1C869.68 591.72 871.5 598.35 872.1 600.6" fill="none" stroke="#e6aeaa" stroke-width="1.3"/>
<line x1="720.1" x2="878.6" y1="639.4" y2="639.4" stroke="#858585" stroke-width="1.1"/>
<text transform="translate(730.2 646.3) rotate(-45)" font-size="6.15" text-anchor="end" fill="#444" stroke="#444" stroke-width="0.1">Jan</text>
<text transform="translate(743.43 646.3) rotate(-45)" font-size="6.15" text-anchor="end" fill="#444" stroke="#444" stroke-width="0.1">Feb</text>
<text transform="translate(756.66 646.3) rotate(-45)" font-size="6.15" text-anchor="end" fill="#444" stroke="#444" stroke-width="0.1">Mar</text>
<text transform="translate(769.89 646.3) rotate(-45)" font-size="6.15" text-anchor="end" fill="#444" stroke="#444" stroke-width="0.1">Apr</text>
<text transform="translate(783.12 646.3) rotate(-45)" font-size="6.15" text-anchor="end" fill="#444" stroke="#444" stroke-width="0.1">May</text>
<text transform="translate(796.35 646.3) rotate(-45)" font-size="6.15" text-anchor="end" fill="#444" stroke="#444" stroke-width="0.1">Jun</text>
<text transform="translate(809.58 646.3) rotate(-45)" font-size="6.15" text-anchor="end" fill="#444" stroke="#444" stroke-width="0.1">Jul</text>
<text transform="translate(822.81 646.3) rotate(-45)" font-size="6.15" text-anchor="end" fill="#444" stroke="#444" stroke-width="0.1">Aug</text>
<text transform="translate(836.04 646.3) rotate(-45)" font-size="6.15" text-anchor="end" fill="#444" stroke="#444" stroke-width="0.1">Sep</text>
<text transform="translate(849.27 646.3) rotate(-45)" font-size="6.15" text-anchor="end" fill="#444" stroke="#444" stroke-width="0.1">Oct</text>
<text transform="translate(862.5 646.3) rotate(-45)" font-size="6.15" text-anchor="end" fill="#444" stroke="#444" stroke-width="0.1">Nov</text>
<text transform="translate(875.73 646.3) rotate(-45)" font-size="6.15" text-anchor="end" fill="#444" stroke="#444" stroke-width="0.1">Dec</text>
<rect x="44.4" y="697.3" width="183.5" height="141" fill="#fff" stroke="#929292" stroke-width="1"/>
<text x="136" y="712.8" font-size="9.4" text-anchor="middle" fill="#2f2f2f" stroke="#2f2f2f" stroke-width="0.24">Monthly Debt Repayment</text>
<line x1="117.6" x2="117.6" y1="719.4" y2="820.8" stroke="#e1e1e1" stroke-width="0.9"/>
<line x1="168.4" x2="168.4" y1="719.4" y2="820.8" stroke="#e1e1e1" stroke-width="0.9"/>
<line x1="220" x2="220" y1="719.4" y2="820.8" stroke="#e1e1e1" stroke-width="0.9"/>
<rect x="67" y="722.2" width="52.8" height="5.1" fill="#e2b0ac"/>
<text x="63.6" y="727" font-size="6.15" text-anchor="end" fill="#333" stroke="#333" stroke-width="0.10">Jan</text>
<rect x="67" y="730.47" width="121.3" height="5.1" fill="#e2b0ac"/>
<text x="63.6" y="735.27" font-size="6.15" text-anchor="end" fill="#333" stroke="#333" stroke-width="0.10">Feb</text>
<rect x="67" y="738.75" width="112.9" height="5.1" fill="#e2b0ac"/>
<text x="63.6" y="743.55" font-size="6.15" text-anchor="end" fill="#333" stroke="#333" stroke-width="0.10">Mar</text>
<rect x="67" y="747.02" width="98.9" height="5.1" fill="#e2b0ac"/>
<text x="63.6" y="751.82" font-size="6.15" text-anchor="end" fill="#333" stroke="#333" stroke-width="0.10">Apr</text>
<rect x="67" y="755.29" width="93.7" height="5.1" fill="#e2b0ac"/>
<text x="63.6" y="760.09" font-size="6.15" text-anchor="end" fill="#333" stroke="#333" stroke-width="0.10">May</text>
<rect x="67" y="763.57" width="121.3" height="5.1" fill="#e2b0ac"/>
<text x="63.6" y="768.37" font-size="6.15" text-anchor="end" fill="#333" stroke="#333" stroke-width="0.10">Jun</text>
<rect x="67" y="771.84" width="132.4" height="5.1" fill="#e2b0ac"/>
<text x="63.6" y="776.64" font-size="6.15" text-anchor="end" fill="#333" stroke="#333" stroke-width="0.10">Jul</text>
<rect x="67" y="780.11" width="124.4" height="5.1" fill="#e2b0ac"/>
<text x="63.6" y="784.91" font-size="6.15" text-anchor="end" fill="#333" stroke="#333" stroke-width="0.10">Aug</text>
<rect x="67" y="788.38" width="129.6" height="5.1" fill="#e2b0ac"/>
<text x="63.6" y="793.18" font-size="6.15" text-anchor="end" fill="#333" stroke="#333" stroke-width="0.10">Sep</text>
<rect x="67" y="796.66" width="123.5" height="5.1" fill="#e2b0ac"/>
<text x="63.6" y="801.46" font-size="6.15" text-anchor="end" fill="#333" stroke="#333" stroke-width="0.10">Oct</text>
<rect x="67" y="804.93" width="127.7" height="5.1" fill="#e2b0ac"/>
<text x="63.6" y="809.73" font-size="6.15" text-anchor="end" fill="#333" stroke="#333" stroke-width="0.10">Nov</text>
<rect x="67" y="813.2" width="129.6" height="5.1" fill="#e2b0ac"/>
<text x="63.6" y="818" font-size="6.15" text-anchor="end" fill="#333" stroke="#333" stroke-width="0.10">Dec</text>
<line x1="67" x2="67" y1="719.4" y2="820.8" stroke="#858585" stroke-width="1.1"/>
<text x="67" y="829" font-size="6.15" text-anchor="middle" fill="#444" stroke="#444" stroke-width="0.10">0.00</text>
<text x="117.6" y="829" font-size="6.15" text-anchor="middle" fill="#444" stroke="#444" stroke-width="0.10">500.00</text>
<text x="169.4" y="829" font-size="6.15" text-anchor="middle" fill="#444" stroke="#444" stroke-width="0.10">1,000.00</text>
<rect x="248.2" y="697.4" width="198.6" height="139.9" fill="#fff" stroke="#929292" stroke-width="1"/>
<text x="347.7" y="712.6" font-size="9.4" text-anchor="middle" fill="#2f2f2f" stroke="#2f2f2f" stroke-width="0.24">Income Breakdown</text>
<path d="M347.6 719A55.2 55.2 0 0 1 389.91 809.65L368.68 791.86A27.5 27.5 0 0 0 347.6 746.7Z" fill="#e2b0ac"/>
<path d="M389.91 809.65A55.2 55.2 0 0 1 300.81 803.48L324.29 788.79A27.5 27.5 0 0 0 368.68 791.86Z" fill="#eacdc8"/>
<path d="M300.81 803.48A55.2 55.2 0 0 1 314.04 730.37L330.88 752.37A27.5 27.5 0 0 0 324.29 788.79Z" fill="#c9aaa6"/>
<path d="M314.04 730.37A55.2 55.2 0 0 1 329.23 722.15L338.45 748.27A27.5 27.5 0 0 0 330.88 752.37Z" fill="#f5dedd"/>
<path d="M329.23 722.15A55.2 55.2 0 0 1 347.6 719L347.6 746.7A27.5 27.5 0 0 0 338.45 748.27Z" fill="#cfdfe4"/>
<text x="255.9" y="724.2" font-size="6.2" fill="#333" stroke="#333" stroke-width="0.10">Other Inc…</text>
<text x="255.9" y="731.9" font-size="6.2" fill="#9c9c9c" stroke="#9c9c9c" stroke-width="0.10">5.4%</text>
<path d="M255.9 726.4L289 726.4L339 722.2" fill="none" stroke="#8c8c8c" stroke-width="0.7"/>
<circle cx="339" cy="722.2" r="0.9" fill="#8c8c8c"/>
<text x="255.9" y="738.1" font-size="6.2" fill="#333" stroke="#333" stroke-width="0.10">Side Hustle</text>
<text x="255.9" y="745.8" font-size="6.2" fill="#9c9c9c" stroke="#9c9c9c" stroke-width="0.10">5.0%</text>
<path d="M255.9 740.1L289.1 740.1L322.6 727.9" fill="none" stroke="#8c8c8c" stroke-width="0.7"/>
<circle cx="322.6" cy="727.9" r="0.9" fill="#8c8c8c"/>
<text x="255.9" y="762.7" font-size="6.2" fill="#333" stroke="#333" stroke-width="0.10">Paycheck 4</text>
<text x="255.9" y="770.4" font-size="6.2" fill="#9c9c9c" stroke="#9c9c9c" stroke-width="0.10">23.5%</text>
<path d="M255.9 764.8L296.25 764.8" fill="none" stroke="#8c8c8c" stroke-width="0.7"/>
<circle cx="296.25" cy="764.8" r="0.9" fill="#8c8c8c"/>
<text x="255.9" y="820.4" font-size="6.2" fill="#333" stroke="#333" stroke-width="0.10">Paycheck 3</text>
<text x="255.9" y="828.1" font-size="6.2" fill="#9c9c9c" stroke="#9c9c9c" stroke-width="0.10">30.0%</text>
<path d="M255.9 822.4L289.1 822.4L344.2 826.7" fill="none" stroke="#8c8c8c" stroke-width="0.7"/>
<circle cx="344.2" cy="826.7" r="0.9" fill="#8c8c8c"/>
<text x="438.7" y="750.2" font-size="6.2" text-anchor="end" fill="#333" stroke="#333" stroke-width="0.10">Paycheck 2</text>
<text x="438.7" y="757.9" font-size="6.2" text-anchor="end" fill="#9c9c9c" stroke="#9c9c9c" stroke-width="0.10">36.1%</text>
<path d="M438.7 752.1L394.8 752.1" fill="none" stroke="#8c8c8c" stroke-width="0.7"/>
<circle cx="394.8" cy="752.1" r="0.9" fill="#8c8c8c"/>
<rect x="466.25" y="696.5" width="198.55" height="140.8" fill="#fff" stroke="#929292" stroke-width="1"/>
<text x="564.8" y="712.1" font-size="9.5" text-anchor="middle" fill="#2f2f2f" stroke="#2f2f2f" stroke-width="0.25">Bills Breakdown</text>
<path d="M565.1 718.1A55.6 55.6 0 1 1 512.67 755.2L538.98 764.48A27.7 27.7 0 1 0 565.1 746Z" fill="#e2b0ac"/>
<path d="M512.67 755.2A55.6 55.6 0 0 1 518.34 743.61L541.81 758.71A27.7 27.7 0 0 0 538.98 764.48Z" fill="#eacdc8"/>
<path d="M518.34 743.61A55.6 55.6 0 0 1 526.53 733.65L545.89 753.75A27.7 27.7 0 0 0 541.81 758.71Z" fill="#c9aaa6"/>
<path d="M526.53 733.65A55.6 55.6 0 0 1 532.99 728.31L549.1 751.09A27.7 27.7 0 0 0 545.89 753.75Z" fill="#f5dedd"/>
<path d="M532.99 728.31A55.6 55.6 0 0 1 546.6 721.27L555.88 747.58A27.7 27.7 0 0 0 549.1 751.09Z" fill="#cfdfe4"/>
<path d="M546.6 721.27A55.6 55.6 0 0 1 554.34 719.15L559.74 746.52A27.7 27.7 0 0 0 555.88 747.58Z" fill="#ecbcbe"/>
<path d="M554.34 719.15A55.6 55.6 0 0 1 557.44 718.63L561.28 746.26A27.7 27.7 0 0 0 559.74 746.52Z" fill="#f0cfce"/>
<path d="M557.44 718.63A55.6 55.6 0 0 1 562.66 718.15L563.88 746.03A27.7 27.7 0 0 0 561.28 746.26Z" fill="#f1dcd7"/>
<path d="M562.66 718.15A55.6 55.6 0 0 1 563.35 718.13L564.23 746.01A27.7 27.7 0 0 0 563.88 746.03Z" fill="#f3e3e0"/>
<path d="M563.35 718.13A55.6 55.6 0 0 1 565.1 718.1L565.1 746A27.7 27.7 0 0 0 564.23 746.01Z" fill="#111"/>
<text x="473.7" y="723" font-size="6.2" fill="#333" stroke="#333" stroke-width="0.10">Pet Insur…</text>
<text x="473.7" y="730.7" font-size="6.2" fill="#9c9c9c" stroke="#9c9c9c" stroke-width="0.10">2.3%</text>
<path d="M473.7 724.9L506.9 724.9L551.1 722.5" fill="none" stroke="#8c8c8c" stroke-width="0.7"/>
<circle cx="551.1" cy="722.5" r="0.9" fill="#8c8c8c"/>
<text x="473.7" y="737.1" font-size="6.2" fill="#333" stroke="#333" stroke-width="0.10">Car Insur…</text>
<text x="473.7" y="744.8" font-size="6.2" fill="#9c9c9c" stroke="#9c9c9c" stroke-width="0.10">4.4%</text>
<path d="M473.7 739.3L506.9 739.3L541.1 726.7" fill="none" stroke="#8c8c8c" stroke-width="0.7"/>
<circle cx="541.1" cy="726.7" r="0.9" fill="#8c8c8c"/>
<text x="473.7" y="751.2" font-size="6.2" fill="#333" stroke="#333" stroke-width="0.10">Internet</text>
<text x="473.7" y="758.9" font-size="6.2" fill="#9c9c9c" stroke="#9c9c9c" stroke-width="0.10">3.7%</text>
<path d="M473.7 753.2L506.9 753.2L524.7 739.8" fill="none" stroke="#8c8c8c" stroke-width="0.7"/>
<circle cx="524.7" cy="739.8" r="0.9" fill="#8c8c8c"/>
<text x="473.7" y="765.4" font-size="6.2" fill="#333" stroke="#333" stroke-width="0.10">Phone</text>
<text x="473.7" y="773.1" font-size="6.2" fill="#9c9c9c" stroke="#9c9c9c" stroke-width="0.10">3.7%</text>
<path d="M473.7 767.3L506.9 767.3L517.7 750.2" fill="none" stroke="#8c8c8c" stroke-width="0.7"/>
<circle cx="517.7" cy="750.2" r="0.9" fill="#8c8c8c"/>
<text x="656.4" y="815.2" font-size="6.2" text-anchor="end" fill="#333" stroke="#333" stroke-width="0.10">Mortgage…</text>
<text x="656.4" y="822.9" font-size="6.2" text-anchor="end" fill="#9c9c9c" stroke="#9c9c9c" stroke-width="0.10">80.4%</text>
<path d="M656.4 817.2L595.4 817.2" fill="none" stroke="#8c8c8c" stroke-width="0.7"/>
<circle cx="595.4" cy="817.2" r="0.9" fill="#8c8c8c"/>
<rect x="684.25" y="696.5" width="198.55" height="139.9" fill="#fff" stroke="#929292" stroke-width="1"/>
<text x="783.3" y="712.1" font-size="9.5" text-anchor="middle" fill="#2f2f2f" stroke="#2f2f2f" stroke-width="0.25">Expenses Breakdown</text>
<path d="M783.7 717.7A55.3 55.3 0 0 1 787.17 828.19L785.44 800.65A27.7 27.7 0 0 0 783.7 745.3Z" fill="#e2b0ac"/>
<path d="M787.17 828.19A55.3 55.3 0 0 1 762.06 823.89L772.86 798.49A27.7 27.7 0 0 0 785.44 800.65Z" fill="#eacdc8"/>
<path d="M762.06 823.89A55.3 55.3 0 0 1 744.6 812.1L764.11 792.59A27.7 27.7 0 0 0 772.86 798.49Z" fill="#c9aaa6"/>
<path d="M744.6 812.1A55.3 55.3 0 0 1 736.82 802.34L760.22 787.7A27.7 27.7 0 0 0 764.11 792.59Z" fill="#f5dedd"/>
<path d="M736.82 802.34A55.3 55.3 0 0 1 728.47 770.22L756.03 771.61A27.7 27.7 0 0 0 760.22 787.7Z" fill="#cfdfe4"/>
<path d="M728.47 770.22A55.3 55.3 0 0 1 732.41 752.32L758.01 762.64A27.7 27.7 0 0 0 756.03 771.61Z" fill="#ecbcbe"/>
<path d="M732.41 752.32A55.3 55.3 0 0 1 749.53 729.52L766.59 751.22A27.7 27.7 0 0 0 758.01 762.64Z" fill="#edcbc8"/>
<path d="M749.53 729.52A55.3 55.3 0 0 1 763.34 721.58L773.5 747.25A27.7 27.7 0 0 0 766.59 751.22Z" fill="#f1dcd7"/>
<path d="M763.34 721.58A55.3 55.3 0 0 1 783.7 717.7L783.7 745.3A27.7 27.7 0 0 0 773.5 747.25Z" fill="#dac5c4"/>
<text x="691.8" y="723" font-size="6.2" fill="#333" stroke="#333" stroke-width="0.10">Miscellan…</text>
<text x="691.8" y="730.7" font-size="6.2" fill="#9c9c9c" stroke="#9c9c9c" stroke-width="0.10">6.0%</text>
<path d="M691.8 724.9L725.6 724.9L774.4 721.5" fill="none" stroke="#8c8c8c" stroke-width="0.7"/>
<circle cx="774.4" cy="721.5" r="0.9" fill="#8c8c8c"/>
<text x="691.8" y="737.1" font-size="6.2" fill="#333" stroke="#333" stroke-width="0.10">Health</text>
<text x="691.8" y="744.8" font-size="6.2" fill="#9c9c9c" stroke="#9c9c9c" stroke-width="0.10">4.6%</text>
<path d="M691.8 739.3L725.6 739.3L758.4 727.4" fill="none" stroke="#8c8c8c" stroke-width="0.7"/>
<circle cx="758.4" cy="727.4" r="0.9" fill="#8c8c8c"/>
<text x="691.8" y="751.2" font-size="6.2" fill="#333" stroke="#333" stroke-width="0.10">Clothing</text>
<text x="691.8" y="758.9" font-size="6.2" fill="#9c9c9c" stroke="#9c9c9c" stroke-width="0.10">8.3%</text>
<path d="M691.8 753.2L725.6 753.2L742 741.1" fill="none" stroke="#8c8c8c" stroke-width="0.7"/>
<circle cx="742" cy="741.1" r="0.9" fill="#8c8c8c"/>
<text x="691.8" y="765.4" font-size="6.2" fill="#333" stroke="#333" stroke-width="0.10">Personal…</text>
<text x="691.8" y="773.1" font-size="6.2" fill="#9c9c9c" stroke="#9c9c9c" stroke-width="0.10">5.3%</text>
<path d="M691.8 767.3L725.6 767.3L732.8 761.4" fill="none" stroke="#8c8c8c" stroke-width="0.7"/>
<circle cx="732.8" cy="761.4" r="0.9" fill="#8c8c8c"/>
<text x="691.8" y="784.3" font-size="6.2" fill="#333" stroke="#333" stroke-width="0.10">Utilities</text>
<text x="691.8" y="792" font-size="6.2" fill="#9c9c9c" stroke="#9c9c9c" stroke-width="0.10">9.7%</text>
<path d="M691.8 786.2L733.1 786.2" fill="none" stroke="#8c8c8c" stroke-width="0.7"/>
<circle cx="733.1" cy="786.2" r="0.9" fill="#8c8c8c"/>
<text x="691.8" y="805.1" font-size="6.2" fill="#333" stroke="#333" stroke-width="0.10">Fuel</text>
<text x="691.8" y="812.8" font-size="6.2" fill="#9c9c9c" stroke="#9c9c9c" stroke-width="0.10">6.1%</text>
<path d="M691.8 807L725.6 807L754.6 816.7" fill="none" stroke="#8c8c8c" stroke-width="0.7"/>
<circle cx="754.6" cy="816.7" r="0.9" fill="#8c8c8c"/>
<text x="691.8" y="819.4" font-size="6.2" fill="#333" stroke="#333" stroke-width="0.10">Eating out</text>
<text x="691.8" y="827.1" font-size="6.2" fill="#9c9c9c" stroke="#9c9c9c" stroke-width="0.10">7.4%</text>
<path d="M691.8 821.2L725.6 821.2L775.5 824.9" fill="none" stroke="#8c8c8c" stroke-width="0.7"/>
<circle cx="775.5" cy="824.9" r="0.9" fill="#8c8c8c"/>
<text x="874.7" y="769.5" font-size="6.2" text-anchor="end" fill="#333" stroke="#333" stroke-width="0.10">Groceries</text>
<text x="874.7" y="777.2" font-size="6.2" text-anchor="end" fill="#9c9c9c" stroke="#9c9c9c" stroke-width="0.10">49.0%</text>
<path d="M874.7 771.6L835.7 771.6" fill="none" stroke="#8c8c8c" stroke-width="0.7"/>
<circle cx="835.7" cy="771.6" r="0.9" fill="#8c8c8c"/>
<rect x="44.4" y="878.7" width="183.4" height="141.3" fill="#fff" stroke="#929292" stroke-width="1"/>
<text x="136" y="893.9" font-size="9.4" text-anchor="middle" fill="#2f2f2f" stroke="#2f2f2f" stroke-width="0.24">Savings Breakdown</text>
<path d="M136.2 900.3A55.3 55.3 0 0 1 171.72 913.21L153.99 934.37A27.7 27.7 0 0 0 136.2 927.9Z" fill="#e2b0ac"/>
<path d="M171.72 913.21A55.3 55.3 0 0 1 191.41 952.47L163.86 954.03A27.7 27.7 0 0 0 153.99 934.37Z" fill="#eacdc8"/>
<path d="M191.41 952.47A55.3 55.3 0 0 1 162.54 1004.23L149.39 979.96A27.7 27.7 0 0 0 163.86 954.03Z" fill="#c9aaa6"/>
<path d="M162.54 1004.23A55.3 55.3 0 0 1 109.26 1003.89L122.7 979.79A27.7 27.7 0 0 0 149.39 979.96Z" fill="#f5dedd"/>
<path d="M109.26 1003.89A55.3 55.3 0 0 1 81.82 965.62L108.96 960.62A27.7 27.7 0 0 0 122.7 979.79Z" fill="#cfdfe4"/>
<path d="M81.82 965.62A55.3 55.3 0 0 1 93.81 920.08L114.97 937.81A27.7 27.7 0 0 0 108.96 960.62Z" fill="#ecbcbe"/>
<path d="M93.81 920.08A55.3 55.3 0 0 1 136.2 900.3L136.2 927.9A27.7 27.7 0 0 0 114.97 937.81Z" fill="#edcbc8"/>
<text x="52" y="906.1" font-size="6.2" fill="#333" stroke="#333" stroke-width="0.10">New F…</text>
<text x="52" y="913.8" font-size="6.2" fill="#9c9c9c" stroke="#9c9c9c" stroke-width="0.10">13.9%</text>
<path d="M52 908.1L114.4 908.1" fill="none" stroke="#8c8c8c" stroke-width="0.7"/>
<circle cx="114.4" cy="908.1" r="0.9" fill="#8c8c8c"/>
<text x="220.2" y="906.1" font-size="6.2" text-anchor="end" fill="#333" stroke="#333" stroke-width="0.10">Emerg…</text>
<text x="220.2" y="913.8" font-size="6.2" text-anchor="end" fill="#9c9c9c" stroke="#9c9c9c" stroke-width="0.10">11.1%</text>
<path d="M220.2 908.1L187 908.1L153.2 906.1" fill="none" stroke="#8c8c8c" stroke-width="0.7"/>
<circle cx="153.2" cy="906.1" r="0.9" fill="#8c8c8c"/>
<text x="220.2" y="932.3" font-size="6.2" text-anchor="end" fill="#333" stroke="#333" stroke-width="0.10">Christ…</text>
<text x="220.2" y="940" font-size="6.2" text-anchor="end" fill="#9c9c9c" stroke="#9c9c9c" stroke-width="0.10">13.0%</text>
<path d="M220.2 934.2L187 934.2" fill="none" stroke="#8c8c8c" stroke-width="0.7"/>
<circle cx="187" cy="934.2" r="0.9" fill="#8c8c8c"/>
<rect x="248.5" y="878.7" width="198.4" height="141.3" fill="#fff" stroke="#929292" stroke-width="1"/>
<text x="347.5" y="893.9" font-size="9.4" text-anchor="middle" fill="#2f2f2f" stroke="#2f2f2f" stroke-width="0.24">Debt Repayment Breakdown</text>
<path d="M347.9 900.3A55.3 55.3 0 0 1 398.92 976.92L373.46 966.28A27.7 27.7 0 0 0 347.9 927.9Z" fill="#e2b0ac"/>
<path d="M398.92 976.92A55.3 55.3 0 0 1 294.09 968.34L320.95 961.98A27.7 27.7 0 0 0 373.46 966.28Z" fill="#c9aaa6"/>
<path d="M294.09 968.34A55.3 55.3 0 0 1 347.9 900.3L347.9 927.9A27.7 27.7 0 0 0 320.95 961.98Z" fill="#eacdc8"/>
<text x="439" y="924.8" font-size="6.2" text-anchor="end" fill="#333" stroke="#333" stroke-width="0.10">Personal…</text>
<text x="439" y="932.5" font-size="6.2" text-anchor="end" fill="#9c9c9c" stroke="#9c9c9c" stroke-width="0.10">31.3%</text>
<path d="M439 927L391 927" fill="none" stroke="#8c8c8c" stroke-width="0.7"/>
<circle cx="391" cy="927" r="0.9" fill="#8c8c8c"/>
<rect x="466.35" y="878.7" width="413.35" height="141.3" fill="#fff" stroke="#929292" stroke-width="1"/>
<text x="672.9" y="893.4" font-size="8.3" text-anchor="middle" fill="#2f2f2f" stroke="#2f2f2f" stroke-width="0.22" style="white-space:pre">YTD Top 10  Expenses</text>
<line x1="494" x2="872.5" y1="902.5" y2="902.5" stroke="#e1e1e1" stroke-width="0.9"/>
<line x1="494" x2="872.5" y1="917.6" y2="917.6" stroke="#e1e1e1" stroke-width="0.9"/>
<line x1="494" x2="872.5" y1="932.7" y2="932.7" stroke="#e1e1e1" stroke-width="0.9"/>
<text x="491" y="904.51" font-size="6.15" text-anchor="end" fill="#444" stroke="#444" stroke-width="0.10">25000</text>
<text x="491" y="919.71" font-size="6.15" text-anchor="end" fill="#444" stroke="#444" stroke-width="0.10">20000</text>
<rect x="507" y="914.9" width="23.6" height="40" fill="#e2b0ac"/>
</svg></div>
<svg class="ck" style="left:940px;top:190px" width="30" height="30" viewBox="940 190 30 30"><path d="M946.4 207.4L949.9 212.9L960.2 199" fill="none" stroke="#111" stroke-width="2.65" stroke-linejoin="miter"/></svg>
<div class="ln" style="top:192.2px;letter-spacing:0.213px">Visually appealing charts to easily</div>
<div class="ln" style="top:222.3px;letter-spacing:0.574px">track all your budget categories</div>
<div class="ln" style="top:252.4px;letter-spacing:0.769px">per month.</div>
<svg class="ck" style="left:940px;top:315.6px" width="30" height="30" viewBox="940 190 30 30"><path d="M946.4 207.4L949.9 212.9L960.2 199" fill="none" stroke="#111" stroke-width="2.65" stroke-linejoin="miter"/></svg>
<div class="ln" style="top:317.8px;letter-spacing:0.479px">Track your total monthly income,</div>
<div class="ln" style="top:347.9px;letter-spacing:0.397px">bills, expenses, contributions</div>
<div class="ln" style="top:378px;letter-spacing:0.456px">towards savings and debt</div>
<div class="ln" style="top:408.1px;letter-spacing:0.212px">repayments.</div>
<svg class="ck" style="left:940px;top:459.1px" width="30" height="30" viewBox="940 190 30 30"><path d="M946.4 207.4L949.9 212.9L960.2 199" fill="none" stroke="#111" stroke-width="2.65" stroke-linejoin="miter"/></svg>
<div class="ln" style="top:461.3px;letter-spacing:0.544px">Find out your Budget vs Actual</div>
<div class="ln" style="top:491.4px;letter-spacing:0.367px">spending for bills, expenses,</div>
<div class="ln" style="top:521.5px;letter-spacing:0.285px">savings, and debt.</div>
<svg class="ck" style="left:940px;top:603.7px" width="30" height="30" viewBox="940 190 30 30"><path d="M946.4 207.4L949.9 212.9L960.2 199" fill="none" stroke="#111" stroke-width="2.65" stroke-linejoin="miter"/></svg>
<div class="ln" style="top:605.9px;letter-spacing:0.321px">Analyze your total annual</div>
<div class="ln" style="top:636px;letter-spacing:0.627px">spending for every category of</div>
<div class="ln" style="top:666.1px;letter-spacing:0.881px">your budget.</div>
<svg class="ck" style="left:940px;top:747.4px" width="30" height="30" viewBox="940 190 30 30"><path d="M946.4 207.4L949.9 212.9L960.2 199" fill="none" stroke="#111" stroke-width="2.65" stroke-linejoin="miter"/></svg>
<div class="ln" style="top:749.6px;letter-spacing:0.613px">Find out what are your top</div>
<div class="ln" style="top:779.7px;letter-spacing:0.287px">expenses and where your money</div>
<div class="ln" style="top:809.8px;letter-spacing:0.411px">goes every month.</div>
<svg class="ck" style="left:940px;top:891.2px" width="30" height="30" viewBox="940 190 30 30"><path d="M946.4 207.4L949.9 212.9L960.2 199" fill="none" stroke="#111" stroke-width="2.65" stroke-linejoin="miter"/></svg>
<div class="ln" style="top:893.4px;letter-spacing:0.588px">Get a quick overview of your total</div>
<div class="ln" style="top:923.5px;letter-spacing:0.107px">income, bills, expenses savings,</div>
<div class="ln" style="top:953.6px;letter-spacing:0.636px">and payments of debt.</div>
</body></html>
